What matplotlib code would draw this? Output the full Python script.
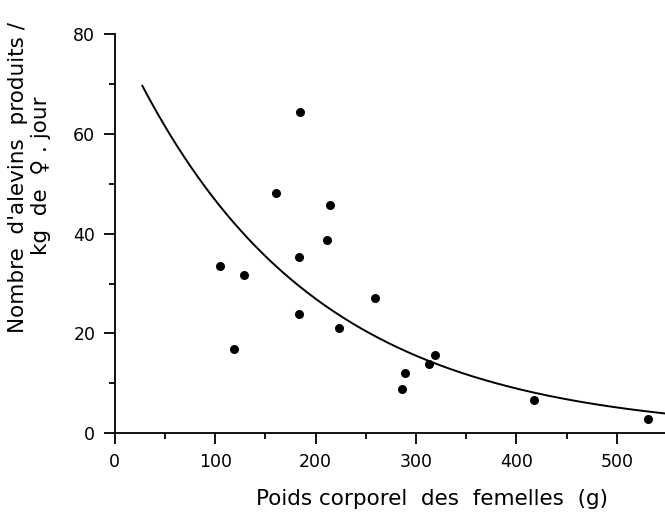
import numpy as np
import matplotlib
matplotlib.use("Agg")
import matplotlib.pyplot as plt
from matplotlib.ticker import MultipleLocator

# body weight of females (g) and fry produced per kg female per day
poids = [184.6, 160.7, 214.8, 211.5, 183.6, 104.9, 129.1, 259.3, 183.6,
         223.4, 118.5, 318.7, 313.4, 288.8, 286.5, 417.9, 531.5]
alevins = [64.3, 48.2, 45.8, 38.7, 35.3, 33.6, 31.7, 27.2, 24.0,
           21.0, 16.8, 15.6, 13.9, 12.1, 8.9, 6.7, 2.8]

# fitted curve y = a * exp(-b * x)
curve_a = 81.0
curve_b = 0.0055
curve_start = 27.5
curve_end = 548

x_ticks = [0, 100, 200, 300, 400, 500]
y_ticks = [0, 20, 40, 60, 80]

plt.rcParams['font.family'] = ['DejaVu Sans']

fig = plt.figure(figsize=(6.65, 5.23), dpi=100)
ax = fig.add_axes([0.1725, 0.1715, 0.8275, 0.7635])

xc = np.linspace(curve_start, curve_end, 300)
ax.plot(xc, curve_a * np.exp(-curve_b * xc), color='black', lw=1.4)
ax.scatter(poids, alevins, s=30, color='black', zorder=3)

ax.set_xlim(0, curve_end)
ax.set_ylim(0, 80)
ax.set_xticks(x_ticks)
ax.set_yticks(y_ticks)
ax.xaxis.set_minor_locator(MultipleLocator(50))
ax.yaxis.set_minor_locator(MultipleLocator(10))

for side in ['top', 'right']:
    ax.spines[side].set_visible(False)
for side in ['left', 'bottom']:
    ax.spines[side].set_linewidth(1.3)

ax.tick_params(which='major', length=8, width=1.3, labelsize=12.5, pad=6)
ax.tick_params(which='minor', length=4, width=1.3)
ax.spines['left'].set_zorder(4)

fig.text(0.65, 0.045, 'Poids corporel  des  femelles  (g)',
         ha='center', va='center', fontsize=15.5)

fig.text(0.027, 0.66, "Nombre  d'alevins  produits /", rotation=90,
         ha='center', va='center', fontsize=15.5)
fig.text(0.062, 0.665, "kg  de  \u2640 . jour", rotation=90,
         ha='center', va='center', fontsize=15.5)

fig.savefig('out.png', dpi=100)
